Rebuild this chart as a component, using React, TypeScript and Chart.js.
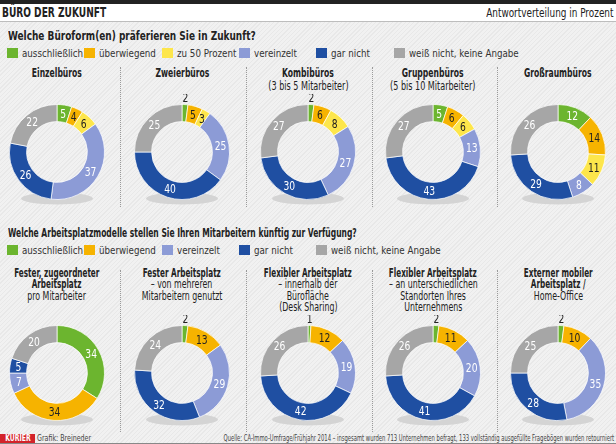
import React, { useEffect, useRef } from "react";
import { Chart, registerables } from "chart.js";
Chart.register(...registerables);

// ---------- data ----------
const legendQ1 = ["ausschließlich", "überwiegend", "zu 50 Prozent", "vereinzelt", "gar nicht", "weiß nicht, keine Angabe"];
const legendQ2 = ["ausschließlich", "überwiegend", "vereinzelt", "gar nicht", "weiß nicht, keine Angabe"];

const officeTypes = ["Einzelbüros", "Zweierbüros", "Kombibüros", "Gruppenbüros", "Großraumbüros"];
const officeSubtitles = ["", "", "(3 bis 5 Mitarbeiter)", "(5 bis 10 Mitarbeiter)", ""];
const einzelbueros = [5, 4, 6, 37, 26, 22];
const zweierbueros = [2, 5, 3, 25, 40, 25];
const kombibueros = [2, 6, 8, 27, 30, 27];
const gruppenbueros = [5, 6, 6, 13, 43, 27];
const grossraumbueros = [12, 14, 11, 8, 29, 26];

const modelTitles: [string, boolean][][] = [
  [["Fester, zugeordneter", true], ["Arbeitsplatz", true], ["pro Mitarbeiter", false]],
  [["Fester Arbeitsplatz", true], ["– von mehreren", false], ["Mitarbeitern genutzt", false]],
  [["Flexibler Arbeitsplatz", true], ["– innerhalb der", false], ["Bürofläche", false], ["(Desk Sharing)", false]],
  [["Flexibler Arbeitsplatz", true], ["– an unterschiedlichen", false], ["Standorten Ihres", false], ["Unternehmens", false]],
  [["Externer mobiler", true], ["Arbeitsplatz /", true], ["Home-Office", false]],
];
const festerZugeordnet = [34, 34, 7, 5, 20];
const festerGeteilt = [2, 13, 29, 32, 24];
const flexInnerhalb = [1, 12, 19, 42, 26];
const flexStandorte = [2, 11, 20, 41, 26];
const externHome = [2, 10, 35, 28, 25];

// ---------- styles ----------
const GREEN = "#6cb52f";
const ORANGE = "#f6b300";
const YELLOW = "#fde64b";
const LBLUE = "#8c9bd6";
const DBLUE = "#1f4fa2";
const GRAY = "#a6a6a6";
const colorsQ1 = [GREEN, ORANGE, YELLOW, LBLUE, DBLUE, GRAY];
const textQ1 = ["#fff", "#222", "#222", "#fff", "#fff", "#fff"];
const colorsQ2 = [GREEN, ORANGE, LBLUE, DBLUE, GRAY];
const textQ2 = ["#fff", "#222", "#fff", "#fff", "#fff"];

const FONT = '"DejaVu Sans Condensed","Liberation Sans Narrow",Roboto,sans-serif';
const colX = [57, 182, 308, 433, 558];
const sepX = [120, 246, 372, 497];

const labelPlugin = {
  id: "donutLabels",
  beforeDatasetsDraw(chart: any) {
    const meta = chart.getDatasetMeta(0);
    const arc = meta.data[0];
    if (!arc) return;
    const { x, y, outerRadius } = arc.getProps(["x", "y", "outerRadius"], true);
    const ctx = chart.ctx;
    ctx.save();
    ctx.fillStyle = "#d4d4d4";
    ctx.beginPath();
    ctx.ellipse(x, y + outerRadius - 1, 36, 6, 0, 0, Math.PI * 2);
    ctx.fill();
    ctx.restore();
  },
  afterDatasetsDraw(chart: any) {
    const ctx = chart.ctx;
    const ds = chart.data.datasets[0];
    const txt = chart.options.plugins.donutLabels.textColors;
    const meta = chart.getDatasetMeta(0);
    ctx.save();
    ctx.font = `12px ${FONT}`;
    ctx.textAlign = "center";
    ctx.textBaseline = "middle";
    meta.data.forEach((el: any, i: number) => {
      const v = ds.data[i];
      const p = el.getProps(["x", "y", "startAngle", "endAngle", "innerRadius", "outerRadius"], true);
      const a = (p.startAngle + p.endAngle) / 2;
      let r = (p.innerRadius + p.outerRadius) / 2;
      let col = txt[i];
      if (v <= 2) {
        r = p.outerRadius + 7;
        col = "#222";
      }
      const tx = p.x + Math.cos(a) * r;
      const ty = p.y + Math.sin(a) * r + 1;
      ctx.save();
      ctx.translate(tx, ty);
      ctx.scale(0.85, 1);
      ctx.fillStyle = col;
      ctx.fillText(String(v), 0, 0);
      ctx.restore();
    });
    ctx.restore();
  },
};

function Donut({ values, colors, textColors, cx, cy }: any) {
  const ref = useRef<HTMLCanvasElement>(null);
  useEffect(() => {
    const chart = new Chart(ref.current!, {
      type: "doughnut",
      data: {
        labels: values.map((_: number, i: number) => String(i)),
        datasets: [{ data: values, backgroundColor: colors, borderColor: "rgba(255,255,255,0.7)", borderWidth: 1 }],
      },
      options: {
        animation: false,
        responsive: false,
        cutout: "64%",
        layout: { padding: { left: 14, right: 14, top: 10, bottom: 10 } },
        plugins: { legend: { display: false }, tooltip: { enabled: false }, donutLabels: { textColors } } as any,
      },
      plugins: [labelPlugin],
    });
    return () => chart.destroy();
  }, []);
  return (
    <canvas ref={ref} width={124} height={116} style={{ position: "absolute", left: cx - 62, top: cy - 58, width: 124, height: 116 }} />
  );
}

function T({ s, origin = "left", children, style }: any) {
  return (
    <span style={{ display: "inline-block", whiteSpace: "nowrap", transform: `scaleX(${s})`, transformOrigin: origin, ...style }}>
      {children}
    </span>
  );
}

function Legend({ items, colors, top }: any) {
  return (
    <>
      {items.map((t: string, i: number) => (
        <div key={i} style={{ position: "absolute", left: 7 + i * 77.3, top, height: 12, display: "flex", alignItems: "center", fontSize: 11, color: "#333" }}>
          <div style={{ width: 11, height: 10, background: colors[i], marginRight: 4, flex: "none" }} />
          <T s={0.88}>{t}</T>
        </div>
      ))}
    </>
  );
}

function Sep({ x, top, height }: any) {
  return <div style={{ position: "absolute", left: x, top, height, width: 0, borderLeft: "1px dotted #9a9a9a" }} />;
}

export default function App() {
  const q1 = [einzelbueros, zweierbueros, kombibueros, gruppenbueros, grossraumbueros];
  const q2 = [festerZugeordnet, festerGeteilt, flexInnerhalb, flexStandorte, externHome];
  return (
    <div
      style={{
        position: "fixed",
        left: 0,
        top: 0,
        width: 616,
        height: 444,
        overflow: "hidden",
        fontFamily: FONT,
        color: "#222",
        background: "repeating-linear-gradient(135deg,#f1f1f1 0px,#f1f1f1 2px,#e8e8e8 2px,#e8e8e8 3px)",
      }}
    >
      {/* header */}
      <div style={{ position: "absolute", left: 0, top: 0, width: 616, height: 4, background: "#222" }} />
      <div style={{ position: "absolute", left: 0, top: 4, width: 616, height: 17, background: "#fff", borderBottom: "1px solid #bdbdbd" }} />
      <div style={{ position: "absolute", left: 2, top: 4, fontSize: 14, fontWeight: "bold", lineHeight: "17px" }}>
        <T s={0.72}>BÜRO DER ZUKUNFT</T>
      </div>
      <div style={{ position: "absolute", right: 3, top: 4, fontSize: 13, lineHeight: "17px", textAlign: "right", width: 300 }}>
        <T s={0.76} origin="right">Antwortverteilung in Prozent</T>
      </div>

      {/* question 1 */}
      <div style={{ position: "absolute", left: 8, top: 29, fontSize: 12, fontWeight: "bold" }}>
        <T s={0.83}>Welche Büroform(en) präferieren Sie in Zukunft?</T>
      </div>
      <Legend items={legendQ1} colors={colorsQ1} top={47} />
      {officeTypes.map((t, i) => (
        <div key={t} style={{ position: "absolute", left: colX[i] - 100, width: 200, top: 67, textAlign: "center", fontSize: 11.5, lineHeight: "13px" }}>
          <div style={{ fontWeight: "bold" }}>
            <T s={0.74} origin="center">{t}</T>
          </div>
          {officeSubtitles[i] && (
            <div>
              <T s={0.78} origin="center">{officeSubtitles[i]}</T>
            </div>
          )}
        </div>
      ))}
      {sepX.map((x) => (
        <Sep key={x} x={x} top={67} height={140} />
      ))}
      {q1.map((v, i) => (
        <Donut key={i} values={v} colors={colorsQ1} textColors={textQ1} cx={colX[i]} cy={152} />
      ))}

      {/* question 2 */}
      <div style={{ position: "absolute", left: 8, top: 226, fontSize: 12, fontWeight: "bold" }}>
        <T s={0.7}>Welche Arbeitsplatzmodelle stellen Sie Ihren Mitarbeitern künftig zur Verfügung?</T>
      </div>
      <Legend items={legendQ2} colors={colorsQ2} top={244} />
      {modelTitles.map((lines, i) => (
        <div key={i} style={{ position: "absolute", left: colX[i] - 100, width: 200, top: 268, textAlign: "center", fontSize: 11.5, lineHeight: "11.4px" }}>
          {lines.map(([t, b], j) => (
            <div key={j} style={{ fontWeight: b ? "bold" : "normal" }}>
              <T s={b ? 0.7 : 0.76} origin="center">{t}</T>
            </div>
          ))}
        </div>
      ))}
      {sepX.map((x) => (
        <Sep key={"b" + x} x={x} top={270} height={162} />
      ))}
      {q2.map((v, i) => (
        <Donut key={"q2" + i} values={v} colors={colorsQ2} textColors={textQ2} cx={colX[i]} cy={373} />
      ))}

      {/* footer */}
      <div style={{ position: "absolute", left: 0, top: 443, width: 616, height: 1, background: "#888" }} />
      <div style={{ position: "absolute", left: 0, top: 434, width: 35, height: 9, background: "#d3232a", color: "#fff", fontSize: 8, fontWeight: "bold", lineHeight: "9px", textAlign: "center" }}>
        <T s={0.85} origin="center">KURIER</T>
      </div>
      <div style={{ position: "absolute", left: 37, top: 434, fontSize: 8, lineHeight: "9px", color: "#444" }}>
        <T s={0.88}>Grafik: Breineder</T>
      </div>
      <div style={{ position: "absolute", right: 2, top: 434, width: 600, textAlign: "right", fontSize: 8, lineHeight: "9px", color: "#444" }}>
        <T s={0.73} origin="right">
          Quelle: CA-Immo-Umfrage/Frühjahr 2014 – insgesamt wurden 713 Unternehmen befragt, 133 vollständig ausgefüllte Fragebögen wurden retourniert
        </T>
      </div>
    </div>
  );
}
